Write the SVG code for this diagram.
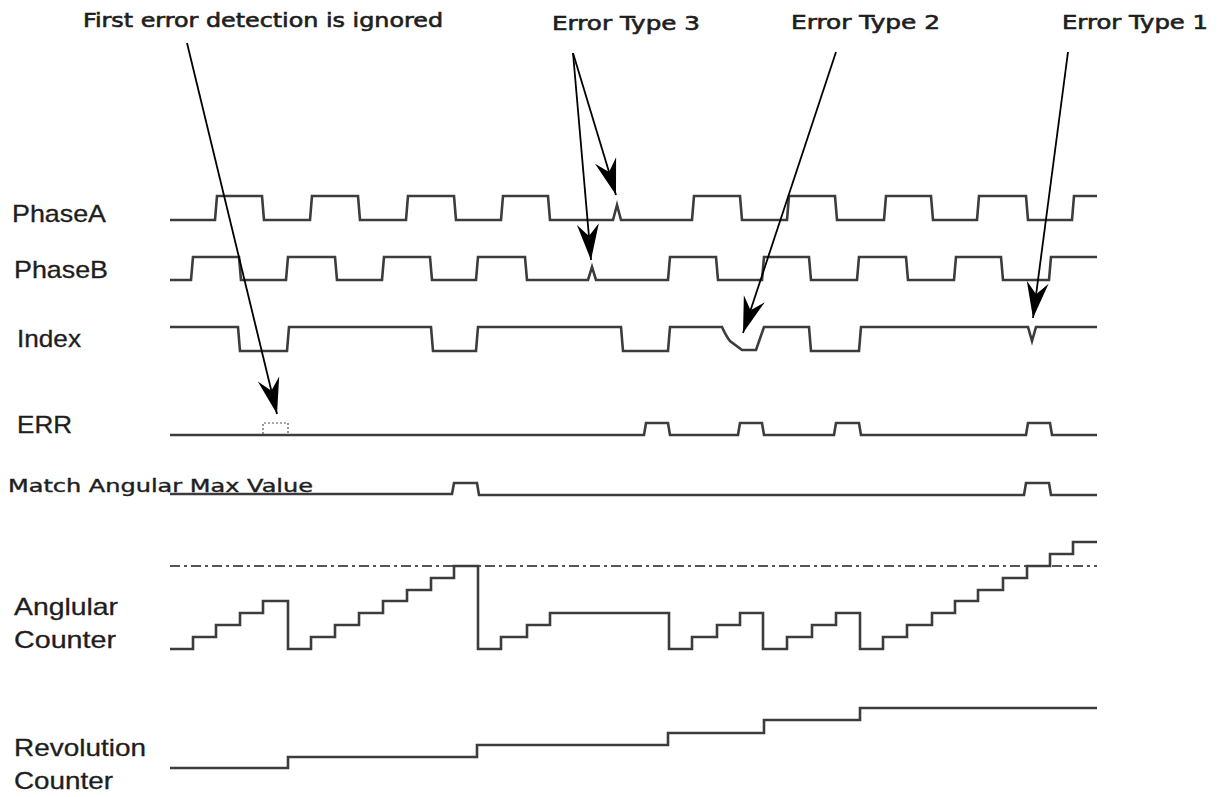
<svg xmlns="http://www.w3.org/2000/svg" width="1219" height="797" viewBox="0 0 1219 797">
<defs>
<style>
.wave{fill:none;stroke:#3c3c3c;stroke-width:2.6;stroke-linejoin:miter}
.lbl{font-family:"Liberation Sans",Arial,sans-serif;font-size:24px;fill:#1e1e1e;stroke:#1e1e1e;stroke-width:0.3}
.note{font-family:"DejaVu Sans",Verdana,sans-serif;font-size:19px;fill:#1e1e1e;stroke:#1e1e1e;stroke-width:0.6}
.arrow{fill:none;stroke:#000;stroke-width:1.8}
.ref{fill:none;stroke:#555;stroke-width:2.2;stroke-dasharray:10 4 3 4}
.dots{fill:none;stroke:#555;stroke-width:1.2;stroke-dasharray:2 2}
</style>
<marker id="ah" markerUnits="userSpaceOnUse" markerWidth="40" markerHeight="30" viewBox="-38 -12 40 24" refX="0" refY="0" orient="auto">
<path d="M0,0 L-36,-11 L-24,0 L-36,11 Z" fill="#000"/>
</marker>
</defs>
<rect width="1219" height="797" fill="#fff"/>

<g id="phaseA">
<text class="lbl" x="12" y="222" textLength="94" lengthAdjust="spacingAndGlyphs">PhaseA</text>
<path class="wave" d="M170,220 H215 L217,196 H262 L264,220 H310 L312,196 H358 L360,220 H406 L408,196 H454 L456,220 H501 L503,196 H548 L550,220 H613 L617,205 L621,220 H692 L694,196 H740 L742,220 H787 L789,196 H835 L837,220 H884 L886,196 H931 L933,220 H977 L979,196 H1026 L1028,220 H1072 L1074,196 H1097"/>
</g>

<g id="phaseB">
<text class="lbl" x="14" y="278" textLength="94" lengthAdjust="spacingAndGlyphs">PhaseB</text>
<path class="wave" d="M170,280 H191 L193,257 H239 L241,280 H286 L288,257 H335 L337,280 H382 L384,257 H430 L432,280 H476 L478,257 H525 L527,280 H588 L592,267 L596,280 H668 L670,257 H716 L718,280 H762 L764,257 H809 L811,280 H857 L859,257 H906 L908,280 H954 L956,257 H1001 L1003,280 H1049 L1051,257 H1097"/>
</g>

<g id="index">
<text class="lbl" x="17" y="347" textLength="64" lengthAdjust="spacingAndGlyphs">Index</text>
<path class="wave" d="M170,327 H238 L240,351 H287 L289,327 H431 L433,351 H476 L478,327 H621 L623,351 H668 L670,327 H722 Q726,336 730,341 L742,350 H756 L764,327 H809 L811,351 H859 L861,327 H1028 L1032,341 L1036,327 H1097"/>
</g>

<g id="err">
<text class="lbl" x="17" y="433" textLength="55" lengthAdjust="spacingAndGlyphs">ERR</text>
<path class="wave" d="M170,435 H644 L646,423 H668 L670,435 H738 L740,423 H762 L764,435 H834 L836,423 H859 L861,435 H1026 L1028,423 H1050 L1052,435 H1097"/>
<path class="dots" d="M263,434 V423 H288 V434"/>
</g>

<g id="match">
<path class="wave" d="M170,494 H452 L454,483 H477 L479,495 H1024 L1026,483 H1049 L1051,495 H1097"/>
<text class="note" x="8" y="492" textLength="305" lengthAdjust="spacingAndGlyphs" style="font-size:18px;stroke-width:0.4">Match Angular Max Value</text>
</g>

<g id="angular">
<text class="lbl" x="14" y="615" textLength="104" lengthAdjust="spacingAndGlyphs">Anglular</text>
<text class="lbl" x="14" y="648" textLength="102" lengthAdjust="spacingAndGlyphs">Counter</text>
<line class="ref" x1="170" y1="566" x2="1097" y2="566"/>
<path class="wave" d="M170,649 H193 V637 H216 V625 H240 V613 H263 V601 H288 V649 H311 V637 H335 V625 H359 V613 H383 V601 H407 V590 H431 V578 H454 V566 H478 V649 H501 V637 H527 V625 H550 V613 H669 V649 H692 V637 H717 V625 H740 V613 H763 V649 H787 V637 H812 V625 H836 V613 H860 V649 H883 V637 H907 V625 H932 V613 H955 V601 H978 V590 H1003 V578 H1027 V566 H1050 V554 H1073 V542 H1097"/>
</g>

<g id="revolution">
<text class="lbl" x="14" y="756" textLength="132" lengthAdjust="spacingAndGlyphs">Revolution</text>
<text class="lbl" x="14" y="789" textLength="99" lengthAdjust="spacingAndGlyphs">Counter</text>
<path class="wave" d="M170,768 H288 V757 H477 V745 H668 V733 H764 V720 H860 V708 H1097"/>
</g>

<g id="annotations">
<text class="note" x="83" y="27" textLength="360" lengthAdjust="spacingAndGlyphs">First error detection is ignored</text>
<text class="note" x="552" y="30" textLength="148" lengthAdjust="spacingAndGlyphs">Error Type 3</text>
<text class="note" x="791" y="29" textLength="149" lengthAdjust="spacingAndGlyphs">Error Type 2</text>
<text class="note" x="1062" y="29" textLength="146" lengthAdjust="spacingAndGlyphs">Error Type 1</text>
</g>

<g id="connectors">
<line class="arrow" x1="187" y1="43" x2="277" y2="414" marker-end="url(#ah)"/>
<line class="arrow" x1="573" y1="53" x2="616" y2="195" marker-end="url(#ah)"/>
<line class="arrow" x1="573" y1="53" x2="591" y2="260" marker-end="url(#ah)"/>
<line class="arrow" x1="836" y1="52" x2="743" y2="333" marker-end="url(#ah)"/>
<line class="arrow" x1="1068" y1="52" x2="1033" y2="318" marker-end="url(#ah)"/>
</g>
</svg>
